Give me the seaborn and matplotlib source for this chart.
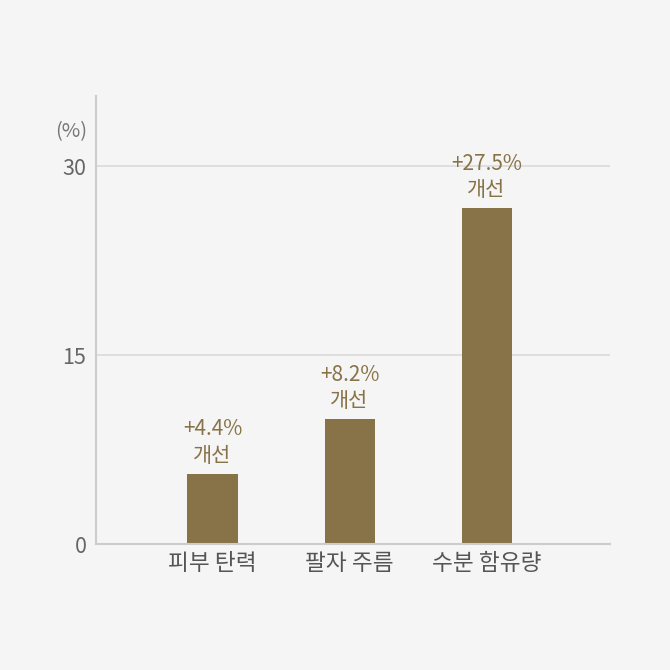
import pandas as pd
import seaborn as sb
import matplotlib.pyplot as plt

# values
categories = ['피부 탄력', '팔자 주름', '수분 함유량']
bar_heights = [5.6, 9.9, 26.7]
improve_labels = ['+4.4%', '+8.2%', '+27.5%']
y_ticks = [0, 15, 30]

df = pd.DataFrame({'항목': categories, '개선율': bar_heights})

bar_color = '#877347'
bg = '#f5f5f5'

sb.set_theme(style='white')
plt.rcParams['font.family'] = ['Noto Sans CJK KR', 'DejaVu Sans']

fig = plt.figure(figsize=(6.7, 6.7), dpi=100, facecolor=bg)
ax = fig.add_axes([0.1433, 0.188, 0.767, 0.669])
ax.set_facecolor(bg)

sb.barplot(data=df, x='항목', y='개선율', color=bar_color, width=0.365,
           saturation=1, linewidth=0, ax=ax, zorder=3)

ax.set_xlim(-0.85, 2.9)
ax.set_ylim(0, 35.6)
ax.set_yticks(y_ticks)
ax.set_yticklabels([str(t) for t in y_ticks])
ax.grid(axis='y', color='#dcdcdc', linewidth=1.3, zorder=0)
ax.set_xlabel('')
ax.set_ylabel('')

for side in ['top', 'right']:
    ax.spines[side].set_visible(False)
for side in ['left', 'bottom']:
    ax.spines[side].set_color('#cccccc')
    ax.spines[side].set_linewidth(1.5)
    ax.spines[side].set_zorder(4)

ax.tick_params(axis='y', length=0, pad=7, labelsize=15.5, labelcolor='#666666')
ax.tick_params(axis='x', length=0, pad=6, labelsize=16.3, labelcolor='#555555')

ax.text(-0.017, 0.92, '(%)', transform=ax.transAxes, ha='right', va='center',
        fontsize=14.5, color='#777777')

# improvement labels above each bar
for i, (h, lab) in enumerate(zip(bar_heights, improve_labels)):
    ax.annotate(lab + '\n개선', xy=(i, h), xytext=(0, 5), textcoords='offset points',
                ha='center', va='bottom', fontsize=15, color=bar_color,
                linespacing=1.25)

plt.savefig('out.png', dpi=100, facecolor=bg)
